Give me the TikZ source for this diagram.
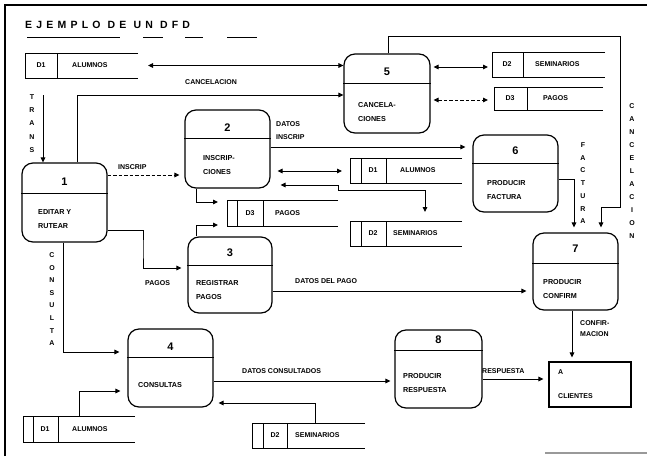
\documentclass[tikz,border=0pt]{standalone}
\usepackage{fontspec}
\setmainfont{Liberation Sans}
\usetikzlibrary{arrows.meta}

\tikzset{
  proc/.style={draw, line width=1.2pt, rounded corners=11pt, inner sep=0pt},
  storebox/.style={inner sep=0pt, outer sep=0pt},
  storeline/.style={line width=1pt},
  lbl/.style={font=\fontsize{7}{8}\selectfont\bfseries, inner sep=0pt, anchor=west},
  idtext/.style={font=\fontsize{7}{8}\selectfont\bfseries, inner sep=0pt},
  num/.style={font=\fontsize{11}{12}\selectfont\bfseries, inner sep=0pt},
  ptext/.style={font=\fontsize{7.2}{13.5}\selectfont\bfseries, inner sep=0pt, anchor=north west, align=left},
  vtext/.style={font=\fontsize{7}{#1}\selectfont\bfseries, inner sep=0pt, anchor=north, align=center},
  vtext/.default=13,
  flow/.style={line width=1pt, -{Triangle[length=5pt,width=4.6pt]}},
  flow2/.style={line width=1pt, {Triangle[length=5pt,width=4.6pt]}-{Triangle[length=5pt,width=4.6pt]}},
  brokenline/.style={dash pattern=on 3.5pt off 2pt},
}

% process bubble: name, left, top, right, bottom, divider y, number y, number
\newcommand\procbox[8]{%
  \node[proc, minimum width={(#4)-(#2)}, minimum height={(#5)-(#3)}]
    (#1) at ({((#2)+(#4))/2},{((#3)+(#5))/2}) {};
  \draw[line width=1pt] (#1.west |- 0,#6) -- (#1.east |- 0,#6);
  \node[num] (#1n) at ({((#2)+(#4))/2},#7) {#8};
}

% data store open on the right: name, left, top, right, bottom, divider x
\newcommand\dstore[6]{%
  \node[storebox, minimum width={(#4)-(#2)}, minimum height={(#5)-(#3)}]
    (#1) at ({((#2)+(#4))/2},{((#3)+(#5))/2}) {};
  \draw[storeline] (#1.north east) -- (#1.north west) -- (#1.south west) -- (#1.south east);
  \draw[storeline] (#1.north -| #6,0) -- (#1.south -| #6,0);
}

\begin{document}
\begin{tikzpicture}[x=1pt, y=-1pt]
\fill[white] (0,0) rectangle (647,456);
\useasboundingbox (0,0) rectangle (647,456);

% sheet frame
\draw[line width=1.6pt] (5,456) -- (5,5) -- (647,5);
\draw[black!40, line width=1.2pt] (545,453) -- (647,453);

% heading
\node[anchor=west, inner sep=0pt,
      font=\fontsize{10.5}{12}\selectfont\bfseries\addfontfeature{LetterSpace=40}]
  (title) at (25,25) {EJEMPLO DE UN DFD};
\draw[line width=0.8pt] (27,37) -- (120,37) (143,37) -- (163,37)
  (185,37) -- (203,37) (227,37) -- (257,37);

% processes
\procbox{p1}{22}{163}{107}{242}{193}{182}{1}
\procbox{p2}{185}{110}{270}{188}{138}{128}{2}
\procbox{p3}{188}{237}{272}{313}{265}{253}{3}
\procbox{p4}{128}{329}{213}{407}{357}{347}{4}
\procbox{p5}{344}{54}{430}{133}{83}{72}{5}
\procbox{p6}{473}{135}{558}{212}{163}{151}{6}
\procbox{p7}{533}{233}{618}{310}{263}{249}{7}
\procbox{p8}{395}{330}{482}{408}{350}{340}{8}

\node[ptext] (p1t) at (38,209.5) {EDITAR Y\\RUTEAR};
\node[ptext] (p2t) at (203,155.5) {INSCRIP-\\CIONES};
\node[ptext] (p3t) at (196,280.5) {REGISTRAR\\PAGOS};
\node[ptext] (p4t) at (138,382.5) {CONSULTAS};
\node[ptext] (p5t) at (358,102.5) {CANCELA-\\CIONES};
\node[ptext] (p6t) at (487,180.5) {PRODUCIR\\FACTURA};
\node[ptext] (p7t) at (543,279.5) {PRODUCIR\\CONFIRM};
\node[ptext] (p8t) at (403,373.5) {PRODUCIR\\RESPUESTA};

% external entity
\node[draw, line width=1.1pt, inner sep=0pt, minimum width=82pt, minimum height=45pt]
  (ent) at (590,384.5) {};
\node[lbl] (entA) at (558,372) {A};
\node[lbl] (entB) at (558,396) {CLIENTES};

% data stores
\dstore{s1}{25}{53}{138}{78}{57}
\node[idtext] (s1i) at (41,65.5) {D1};
\node[lbl] (s1l) at (72,65.5) {ALUMNOS};

\dstore{s2}{492}{52}{605}{77}{523}
\node[idtext] (s2i) at (507,64.5) {D2};
\node[lbl] (s2l) at (535,64.5) {SEMINARIOS};

\dstore{s3}{494}{87}{603}{110}{527}
\node[idtext] (s3i) at (510,98.5) {D3};
\node[lbl] (s3l) at (543,98.5) {PAGOS};

\dstore{s4}{350}{158}{462}{183}{386}
\draw[storeline] (s4.north -| 361,0) -- (s4.south -| 361,0);
\node[idtext] (s4i) at (373,170.5) {D1};
\node[lbl] (s4l) at (400,170.5) {ALUMNOS};

\dstore{s5}{227}{200}{338}{226}{263}
\draw[storeline] (s5.north -| 237,0) -- (s5.south -| 237,0);
\node[idtext] (s5i) at (250,213) {D3};
\node[lbl] (s5l) at (275,213) {PAGOS};

\dstore{s6}{350}{221}{462}{246}{386}
\draw[storeline] (s6.north -| 361,0) -- (s6.south -| 361,0);
\node[idtext] (s6i) at (373,233.5) {D2};
\node[lbl] (s6l) at (393,233.5) {SEMINARIOS};

\dstore{s7}{23}{416}{135}{442}{58}
\draw[storeline] (s7.north -| 33,0) -- (s7.south -| 33,0);
\node[idtext] (s7i) at (45,429) {D1};
\node[lbl] (s7l) at (72,429) {ALUMNOS};

\dstore{s8}{252}{423}{365}{448}{287}
\draw[storeline] (s8.north -| 263,0) -- (s8.south -| 263,0);
\node[idtext] (s8i) at (275,435.5) {D2};
\node[lbl] (s8l) at (295,435.5) {SEMINARIOS};

% data flows
\draw[flow2, shorten <=10pt] (s1.east) -- (p5.west |- s1.east);
\draw[flow] (p1.north -| 77,0) |- (p5.west |- 0,95);
\coordinate (transin) at (43,95);
\draw[flow] (transin) -- (p1.north -| transin);
\draw[flow, brokenline, shorten >=5pt] (p1.east |- 0,175) -- (p2.west |- 0,175);
\draw[flow, shorten >=6pt] (p1.east |- 0,230) -| (143,249) |- (p3.west |- 0,268);
\draw[flow, shorten >=8pt] (p1.south -| 63,0) |- (p4.west |- 0,352);
\draw[flow, shorten >=9pt] (p2.south -| 196,0) |- (s5.west |- 0,202);
\draw[flow, shorten >=9pt] (p3.north -| 196,0) |- (s5.west |- 0,225);
\draw[flow, shorten >=7pt] (p2.east |- 0,147) -- (p6.west |- 0,147);
\draw[flow2, shorten <=7pt, shorten >=8pt] (p2.east |- 0,171) -- (s4.west |- 0,171);
\draw[flow2, shorten <=10pt, shorten >=9pt] (p2.east |- 0,185) -- (338,185) -- (338,190)
  -- (425,190) -- (s6.north -| 425,0);
\draw[flow2, shorten <=3pt, shorten >=4pt] (p5.east |- 0,67) -- (s2.west |- 0,67);
\draw[flow2, brokenline, shorten <=3pt, shorten >=6pt] (p5.east |- 0,100) -- (s3.west |- 0,100);
\draw[flow, shorten >=5pt] (p5.north -| 388,0) |- (620,36) |- (601,207) -- (p7.north -| 601,0);
\draw[flow, shorten >=5pt] (p6.east |- 0,179) -| (p7.north -| 574,0);
\draw[flow, shorten >=6pt] (p3.east |- 0,291) -- (p7.west |- 0,291);
\draw[flow, shorten >=4pt] (p4.east |- 0,381) -- (p8.west |- 0,381);
\draw[flow, shorten >=5pt] (p8.east |- 0,379) -- (ent.west |- 0,379);
\draw[flow, shorten >=4pt] (p7.south -| 572,0) -- (ent.north -| 572,0);
\draw[flow, shorten >=7pt] (s7.north -| 79,0) |- (p4.west |- 0,391);
\draw[flow, shorten >=5pt] (s8.north -| 315,0) |- (p4.east |- 0,403);

% flow labels
\node[lbl] (fCanc) at (185,82) {CANCELACION};
\node[lbl] (fIns) at (118,167) {INSCRIP};
\node[lbl] (fPag) at (145,283) {PAGOS};
\node[lbl] (fDat1) at (276,124) {DATOS};
\node[lbl] (fDat2) at (276,137) {INSCRIP};
\node[lbl] (fDpago) at (295,281) {DATOS DEL PAGO};
\node[lbl] (fDcons) at (242,371) {DATOS CONSULTADOS};
\node[lbl] (fResp) at (482,371) {RESPUESTA};
\node[lbl] (fConf1) at (580,323) {CONFIR-};
\node[lbl] (fConf2) at (580,334) {MACION};

% stacked labels
\node[vtext=13.2] (vTrans) at (32,94.5) {T\\R\\A\\N\\S};
\node[vtext=12.6] (vCons) at (52,252.5) {C\\O\\N\\S\\U\\L\\T\\A};
\node[vtext=13] (vCanc) at (632,103.5) {C\\A\\N\\C\\E\\L\\A\\C\\I\\O\\N};
\node[vtext=12.7] (vFact) at (583,142.5) {F\\A\\C\\T\\U\\R\\A};
\end{tikzpicture}
\end{document}
